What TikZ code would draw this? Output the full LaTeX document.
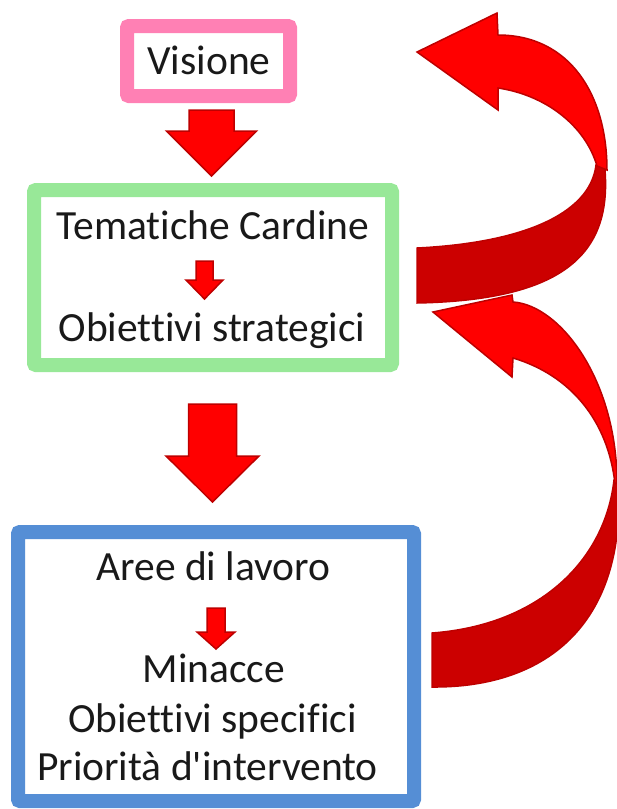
\documentclass[tikz,border=0pt]{standalone}
\usepackage{fontspec}
\setmainfont{Carlito}[Ligatures=NoCommon]
\usetikzlibrary{calc}
\definecolor{pinkb}{RGB}{255,128,180}
\definecolor{greenb}{RGB}{152,232,152}
\definecolor{blueb}{RGB}{85,142,213}
\definecolor{redl}{RGB}{255,0,0}
\definecolor{redd}{RGB}{204,0,0}
\definecolor{redo}{RGB}{190,0,0}
\definecolor{txt}{RGB}{25,25,25}
% start, end, shaft half width, head half width, head length
\newcommand{\blockarrow}[5]{%
  \coordinate (ba-t) at (#1);
  \coordinate (ba-e) at (#2);
  \coordinate (ba-s) at (ba-e |- ba-t);
  \filldraw[arrowbody] ($(ba-s)+(-#3,0)$) -- ($(ba-e)+(-#3,-#5)$) -- ($(ba-e)+(-#4,-#5)$)
    -- (ba-e) -- ($(ba-e)+(#4,-#5)$) -- ($(ba-e)+(#3,-#5)$) -- ($(ba-s)+(#3,0)$) -- cycle;}

\begin{document}
\begin{tikzpicture}[x=1pt,y=-1pt]
\tikzstyle{frame}=[rectangle, line width=14pt, rounded corners=2pt, fill=white]
\tikzstyle{txtnode}=[anchor=base, inner sep=0pt, text=txt, font=\fontsize{41.5}{46}\selectfont]
\tikzstyle{arrowbody}=[fill=redl, draw=redo, line width=1.5pt]
\tikzstyle{ribbonfront}=[fill=redl, draw=redo, line width=1.5pt]
\tikzstyle{ribbonback}=[fill=redd, draw=redo, line width=1.5pt]
\useasboundingbox (0,0) rectangle (617,809);
  \node[frame, draw=pinkb, minimum width=163pt, minimum height=70pt] (vis) at (208.5,61) {};
  \node[frame, draw=greenb, minimum width=358pt, minimum height=175pt] (tem) at (213,277.5) {};
  \node[frame, draw=blueb, minimum width=396pt, minimum height=269pt] (are) at (216,666.5) {};
  \node[txtnode] (visione) at (209,74) {Visione};
  \node[txtnode] (tc) at (213,239) {Tematiche Cardine};
  \node[txtnode] (os) at (212,341) {Obiettivi strategici};
  \node[txtnode] (al) at (213.5,580) {Aree di lavoro};
  \node[txtnode] (mi) at (214,682) {Minacce};
  \node[txtnode] (osp) at (212.5,732) {Obiettivi specifici};
  \node[txtnode] (pr) at (207.5,780) {Priorità d\textquotesingle intervento};
  % straight arrows
  \blockarrow{$(vis.south)+(0,7)$}{$(tem.north)+(-1.5,-7)$}{22.5}{45}{45}
  \blockarrow{$(tem.south)+(0,32)$}{$(are.north)+(-3.5,-23)$}{24}{46.5}{46}
  \blockarrow{$(tc.base)+(-8.5,22)$}{$(os.base)+(-7.5,-42)$}{8.5}{18.5}{19}
  \blockarrow{$(al.base)+(0,28)$}{$(mi.base)+(2,-33)$}{9}{19}{17}
  % lower curved arrow
  \filldraw[ribbonback] (618,478) .. controls (628,620) and (550,688) .. (432,687)
    -- (432,633) .. controls (540,625) and (605,560) .. (614,480) -- cycle;
  \filldraw[ribbonfront] (433,312) -- (512,295) -- (513,302) .. controls (560,305) and (617,380) .. (617,483)
    -- (615,484) .. controls (608,420) and (570,375) .. (513,358) -- (512,377) -- cycle;
  % upper curved arrow
  \filldraw[ribbonback] (604,160) .. controls (615,250) and (570,300) .. (417,303)
    -- (417,248) .. controls (520,243) and (590,215) .. (596,165) -- cycle;
  \filldraw[ribbonfront] (417,52) -- (497,13) -- (498,35) .. controls (570,35) and (607,95) .. (607,170)
    -- (597,166) .. controls (585,125) and (545,95) .. (498,88) -- (498,110) -- cycle;
\end{tikzpicture}
\end{document}
